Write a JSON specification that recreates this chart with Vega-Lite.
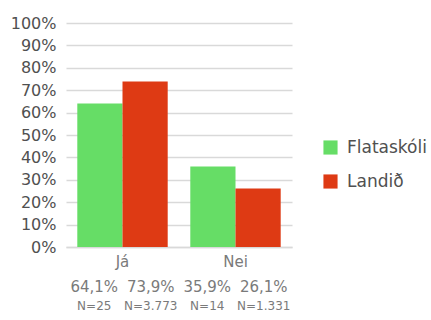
{
  "$schema": "https://vega.github.io/schema/vega-lite/v6.json",
  "width": 226,
  "height": 224,
  "autosize": {"type": "none"},
  "padding": {"left": 66, "top": 23, "right": 139, "bottom": 73},
  "background": "white",
  "config": {
    "font": "DejaVu Sans",
    "view": {"stroke": null},
    "axis": {"labelFont": "DejaVu Sans", "titleFont": "DejaVu Sans"},
    "legend": {"labelFont": "DejaVu Sans"}
  },
  "data": {
    "values": [
      {"svar": "Já", "hopur": "Flataskóli", "dalkur": "Já Flataskóli", "hlutfall": 0.641, "merki": "64,1%", "n": "N=25"},
      {"svar": "Já", "hopur": "Landið", "dalkur": "Já Landið", "hlutfall": 0.739, "merki": "73,9%", "n": "N=3.773"},
      {"svar": "Nei", "hopur": "Flataskóli", "dalkur": "Nei Flataskóli", "hlutfall": 0.359, "merki": "35,9%", "n": "N=14"},
      {"svar": "Nei", "hopur": "Landið", "dalkur": "Nei Landið", "hlutfall": 0.261, "merki": "26,1%", "n": "N=1.331"}
    ]
  },
  "resolve": {"scale": {"x": "independent", "y": "independent"}, "axis": {"x": "independent", "y": "independent"}},
  "layer": [
    {
      "mark": {"type": "bar"},
      "encoding": {
        "x": {
          "field": "svar",
          "type": "nominal",
          "sort": ["Já", "Nei"],
          "scale": {"paddingInner": 0.2, "paddingOuter": 0.1},
          "axis": {
            "title": null,
            "labelAngle": 0,
            "labelFontSize": 15,
            "labelColor": "#7a7a7a",
            "labelPadding": 7,
            "ticks": false,
            "domainColor": "#d9d9d9",
            "domainWidth": 1.5
          }
        },
        "xOffset": {"field": "hopur", "type": "nominal", "sort": ["Flataskóli", "Landið"]},
        "y": {
          "field": "hlutfall",
          "type": "quantitative",
          "scale": {"domain": [0, 1]},
          "axis": {
            "title": null,
            "format": ".0%",
            "values": [0, 0.1, 0.2, 0.3, 0.4, 0.5, 0.6, 0.7, 0.8, 0.9, 1],
            "labelOverlap": false,
            "labelFontSize": 16,
            "labelColor": "#505050",
            "labelPadding": 10,
            "ticks": false,
            "domain": false,
            "gridColor": "#d9d9d9",
            "gridWidth": 1.5
          }
        },
        "color": {
          "field": "hopur",
          "type": "nominal",
          "sort": ["Flataskóli", "Landið"],
          "scale": {"range": ["#66dd66", "#de3a14"]},
          "legend": {
            "title": null,
            "orient": "none",
            "legendX": 256,
            "legendY": 116,
            "symbolType": "square",
            "symbolSize": 200,
            "symbolStrokeWidth": 0,
            "symbolOpacity": 1,
            "labelFontSize": 17,
            "labelColor": "#505050",
            "labelOffset": 8,
            "rowPadding": 16
          }
        }
      }
    },
    {
      "mark": {"type": "text", "fontSize": 15, "color": "#7a7a7a", "dy": 40, "baseline": "middle"},
      "encoding": {
        "x": {
          "field": "dalkur",
          "type": "nominal",
          "sort": ["Já Flataskóli", "Já Landið", "Nei Flataskóli", "Nei Landið"],
          "scale": {"paddingInner": 0, "paddingOuter": 0},
          "axis": null
        },
        "y": {"datum": 0, "type": "quantitative", "scale": {"domain": [0, 1]}, "axis": null},
        "text": {"field": "merki"}
      }
    },
    {
      "mark": {"type": "text", "fontSize": 12, "color": "#7a7a7a", "dy": 59, "baseline": "middle"},
      "encoding": {
        "x": {
          "field": "dalkur",
          "type": "nominal",
          "sort": ["Já Flataskóli", "Já Landið", "Nei Flataskóli", "Nei Landið"],
          "scale": {"paddingInner": 0, "paddingOuter": 0},
          "axis": null
        },
        "y": {"datum": 0, "type": "quantitative", "scale": {"domain": [0, 1]}, "axis": null},
        "text": {"field": "n"}
      }
    }
  ]
}
